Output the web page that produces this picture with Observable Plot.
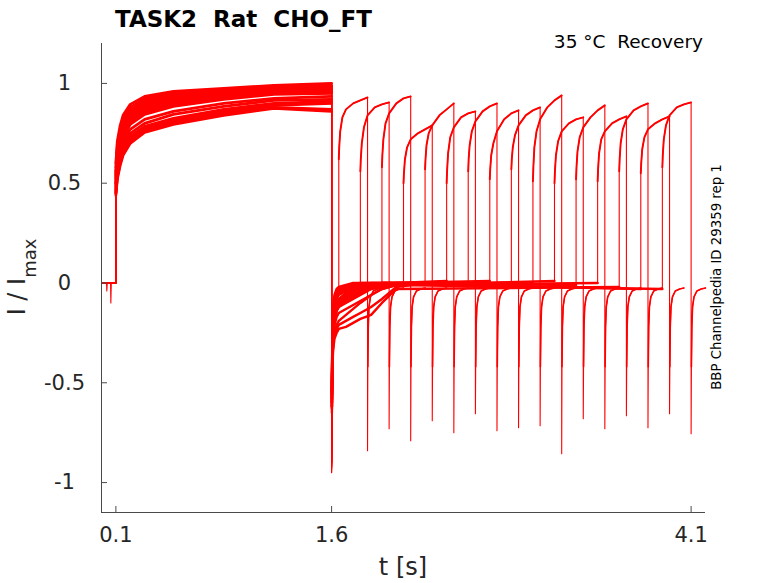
<!DOCTYPE html>
<html>
<head>
<meta charset="utf-8">
<script src="https://cdn.jsdelivr.net/npm/d3@7"></script>
<script src="https://cdn.jsdelivr.net/npm/@observablehq/plot@0.6"></script>
<style>
  body { margin: 0; background: #fff; }
  svg { display: block; }
</style>
</head>
<body>
<div id="chart"></div>
<script>
// ---------- data ----------
const titleText = "TASK2  Rat  CHO_FT";
const conditionText = "35 °C  Recovery";
const sideText = "BBP Channelpedia ID 29359 rep 1";
const xTicks = [0.1, 1.6, 4.1];
const yTicks = [1, 0.5, 0, -0.5, -1];
const xDomain = [0, 4.2];
const yDomain = [-1.15, 1.2];

// pre-pulse baseline (one sweep shows two small dips)
const preTimes = [0, 0.035, 0.037, 0.04, 0.063, 0.065, 0.068, 0.1];
const preDipValues = [0, 0, -0.04, 0, 0, -0.1, 0, 0];
const dipSweep = 3;

// first (conditioning) pulse, 0.1 s – 1.6 s
const p1Times = [0.1, 0.11, 0.13, 0.15, 0.2, 0.3, 0.5, 0.85, 1.2, 1.6];
const p1Values = [
  [0.60, 0.71, 0.79, 0.84, 0.895, 0.935, 0.96, 0.975, 0.99, 1.00],
  [0.50, 0.62, 0.70, 0.75, 0.815, 0.865, 0.90, 0.935, 0.955, 0.96],
  [0.58, 0.69, 0.77, 0.82, 0.88, 0.925, 0.955, 0.97, 0.985, 0.99],
  [0.47, 0.56, 0.64, 0.69, 0.75, 0.80, 0.845, 0.885, 0.915, 0.92],
  [0.56, 0.67, 0.75, 0.80, 0.865, 0.915, 0.945, 0.965, 0.98, 0.985],
  [0.55, 0.66, 0.74, 0.79, 0.855, 0.905, 0.935, 0.96, 0.975, 0.98],
  [0.45, 0.54, 0.61, 0.66, 0.725, 0.775, 0.815, 0.86, 0.89, 0.90],
  [0.54, 0.65, 0.73, 0.78, 0.845, 0.895, 0.93, 0.955, 0.97, 0.975],
  [0.53, 0.64, 0.72, 0.77, 0.835, 0.885, 0.92, 0.945, 0.965, 0.97],
  [0.48, 0.58, 0.66, 0.71, 0.77, 0.82, 0.86, 0.90, 0.925, 0.935],
  [0.52, 0.63, 0.71, 0.76, 0.825, 0.875, 0.91, 0.94, 0.96, 0.965],
  [0.45, 0.53, 0.60, 0.65, 0.71, 0.765, 0.805, 0.85, 0.88, 0.87],
  [0.50, 0.61, 0.69, 0.74, 0.805, 0.855, 0.895, 0.93, 0.95, 0.955],
  [0.46, 0.55, 0.62, 0.67, 0.735, 0.785, 0.825, 0.87, 0.90, 0.91],
  [0.49, 0.60, 0.68, 0.73, 0.795, 0.845, 0.885, 0.92, 0.945, 0.95],
  [0.44, 0.52, 0.59, 0.64, 0.70, 0.755, 0.795, 0.84, 0.875, 0.86]
];

// tail current after the first pulse (each row stops at its sweep's second pulse)
const tail1Times = [1.6, 1.602, 1.605, 1.61, 1.62, 1.635, 1.65, 1.7, 1.75, 1.8, 1.875, 1.95, 2.05];
const tail1Values = [
  [-0.90, -0.55, -0.32, -0.18, -0.10, -0.06, -0.05],
  [-0.95, -0.62, -0.40, -0.27, -0.19, -0.14, -0.12, -0.09, -0.07, -0.05],
  [-0.92, -0.60, -0.38, -0.25, -0.18, -0.14, -0.12, -0.10, -0.08, -0.06, -0.03, -0.01],
  [-0.90, -0.58, -0.35, -0.22, -0.15, -0.10, -0.08, -0.05, -0.03, -0.02, -0.01, 0.00, 0.00],
  [-0.93, -0.63, -0.42, -0.31, -0.26, -0.23, -0.21, -0.19, -0.17, -0.15, -0.12, -0.08, -0.02],
  [-0.90, -0.54, -0.30, -0.15, -0.08, -0.04, -0.03, -0.02, -0.01, 0.00, 0.00, 0.00, 0.00],
  [-0.94, -0.62, -0.40, -0.28, -0.21, -0.17, -0.15, -0.13, -0.11, -0.09, -0.06, -0.03, -0.01],
  [-0.90, -0.56, -0.32, -0.18, -0.10, -0.06, -0.05, -0.03, -0.02, -0.02, -0.01, 0.00, 0.00],
  [-0.92, -0.60, -0.37, -0.24, -0.17, -0.13, -0.11, -0.08, -0.06, -0.05, -0.03, -0.02, -0.01],
  [-0.88, -0.50, -0.27, -0.12, -0.06, -0.03, -0.02, -0.01, 0.00, 0.00, 0.00, 0.00, 0.00],
  [-0.93, -0.62, -0.43, -0.32, -0.25, -0.21, -0.19, -0.16, -0.13, -0.10, -0.06, -0.03, -0.01],
  [-0.90, -0.56, -0.33, -0.20, -0.12, -0.08, -0.06, -0.04, -0.03, -0.02, -0.01, -0.01, 0.00],
  [-0.91, -0.58, -0.34, -0.22, -0.15, -0.11, -0.09, -0.06, -0.04, -0.03, -0.02, -0.01, -0.01],
  [-0.95, -0.65, -0.45, -0.34, -0.28, -0.25, -0.23, -0.22, -0.20, -0.18, -0.16, -0.10, -0.03],
  [-0.90, -0.54, -0.30, -0.16, -0.09, -0.05, -0.04, -0.02, -0.01, -0.01, 0.00, 0.00, 0.00],
  [-0.92, -0.60, -0.37, -0.24, -0.16, -0.12, -0.10, -0.07, -0.05, -0.04, -0.02, -0.01, -0.01]
];
// resting level just before the second pulse (sweeps whose pulse comes after 2.05 s)
const lateBaseline = [null, null, null, 0.00, 0.00, 0.01, 0.00, 0.01, 0.00, 0.00, 0.01, -0.01, 0.00, -0.02, -0.03, -0.03];

// second (test) pulse
const p2Start = [1.65, 1.8, 1.95, 2.1, 2.25, 2.4, 2.55, 2.7, 2.85, 3.0, 3.15, 3.3, 3.45, 3.6, 3.75, 3.9];
const p2Duration = 0.2;
const p2Offsets = [0, 0.003, 0.01, 0.025, 0.05, 0.1, 0.15, 0.2];
const p2Values = [
  [0.62, 0.68, 0.76, 0.83, 0.87, 0.90, 0.915, 0.93],
  [0.56, 0.62, 0.70, 0.78, 0.84, 0.88, 0.895, 0.905],
  [0.58, 0.64, 0.72, 0.80, 0.85, 0.90, 0.925, 0.935],
  [0.50, 0.55, 0.62, 0.68, 0.72, 0.75, 0.77, 0.79],
  [0.57, 0.62, 0.69, 0.75, 0.79, 0.84, 0.87, 0.90],
  [0.50, 0.56, 0.65, 0.73, 0.78, 0.83, 0.85, 0.86],
  [0.56, 0.62, 0.69, 0.76, 0.81, 0.86, 0.885, 0.90],
  [0.52, 0.57, 0.64, 0.70, 0.76, 0.82, 0.85, 0.865],
  [0.57, 0.62, 0.68, 0.74, 0.79, 0.84, 0.865, 0.88],
  [0.51, 0.58, 0.68, 0.76, 0.82, 0.88, 0.915, 0.94],
  [0.50, 0.56, 0.64, 0.71, 0.76, 0.80, 0.82, 0.83],
  [0.52, 0.58, 0.66, 0.73, 0.78, 0.83, 0.865, 0.89],
  [0.51, 0.57, 0.65, 0.72, 0.76, 0.80, 0.82, 0.835],
  [0.56, 0.62, 0.70, 0.77, 0.82, 0.865, 0.885, 0.90],
  [0.55, 0.60, 0.67, 0.73, 0.77, 0.80, 0.82, 0.835],
  [0.58, 0.64, 0.72, 0.79, 0.84, 0.88, 0.895, 0.905]
];

// tail current after the second pulse
const tail2Min = [-0.84, -0.73, -0.79, -0.69, -0.75, -0.655, -0.74, -0.725, -0.715, -0.855, -0.68, -0.73, -0.665, -0.725, -0.655, -0.755];
const tail2Offsets = [0.002, 0.005, 0.01, 0.02, 0.04, 0.07, 0.1];
const tail2Values = [-0.42, -0.22, -0.12, -0.07, -0.04, -0.03, -0.025];

// ---------- build the sweep table ----------
const points = [];
p2Start.forEach((start, i) => {
  const add = (t, v, seg, thick) => points.push({sweep: i, t, v, seg, thick});
  if (i === dipSweep) preTimes.forEach((t, k) => add(t, preDipValues[k], "base", false));
  else { add(preTimes[0], 0, "base", false); add(preTimes[preTimes.length - 1], 0, "base", false); }
  p1Times.forEach((t, k) => add(t, p1Values[i][k], "p1", true));
  tail1Values[i].forEach((v, k) => add(tail1Times[k], v, "tail1", k > 0));
  if (lateBaseline[i] !== null) add(start, lateBaseline[i], "tail1", true);
  p2Offsets.forEach((o, k) => add(start + o, p2Values[i][k], "p2", true));
  const end = start + p2Duration;
  add(end, tail2Min[i], "tail2", false);
  tail2Offsets.forEach((o, k) => add(end + o, tail2Values[k], "tail2", true));
});

const red = "#ff0000";
const axisColor = "#4a4a4a";
const segWidth = {p1: 2.8, tail1: 2.4, p2: 1.9, tail2: 1.6};
const thickLine = seg => Plot.line(points.filter(d => d.thick && d.seg === seg),
  {x: "t", y: "v", z: "sweep", stroke: red, strokeWidth: segWidth[seg]});

const chart = Plot.plot({
  width: 778,
  height: 583,
  marginLeft: 101,
  marginRight: 73,
  marginTop: 43,
  marginBottom: 71,
  x: {domain: xDomain, label: null},
  y: {domain: yDomain, label: null},
  style: {fontFamily: "DejaVu Sans", fontSize: "21px", color: "#262626", background: "#fff"},
  marks: [
    Plot.line(points, {x: "t", y: "v", z: "sweep", stroke: red, strokeWidth: 1.1}),
    thickLine("p1"), thickLine("tail1"), thickLine("p2"), thickLine("tail2"),
    Plot.ruleX([xDomain[0]], {stroke: axisColor}),
    Plot.ruleY([yDomain[0]], {stroke: axisColor}),
    Plot.axisX(xTicks, {tickSize: -6, tickPadding: 21, tickFormat: d => String(d), stroke: axisColor, fill: "#262626", fontSize: 21}),
    Plot.axisY(yTicks, {tickSize: -6, tickPadding: 43, textAnchor: "middle", tickFormat: d => String(d), stroke: axisColor, fill: "#262626", fontSize: 21})
  ]
});

const svg = d3.select(chart);
svg.append("text")
  .attr("x", 115).attr("y", 27).attr("text-anchor", "start")
  .attr("font-family", "DejaVu Sans").attr("font-weight", "bold").attr("font-size", 23)
  .attr("fill", "#000").style("white-space", "pre")
  .text(titleText);
svg.append("text")
  .attr("x", 703).attr("y", 48).attr("text-anchor", "end")
  .attr("font-family", "DejaVu Sans").attr("font-size", 18.5)
  .attr("fill", "#000").style("white-space", "pre")
  .text(conditionText);
svg.append("text")
  .attr("transform", "translate(721,277) rotate(-90)").attr("text-anchor", "middle")
  .attr("font-family", "DejaVu Sans").attr("font-size", 13.3)
  .attr("fill", "#000")
  .text(sideText);
svg.append("text")
  .attr("x", 403).attr("y", 575).attr("text-anchor", "middle")
  .attr("font-family", "DejaVu Sans").attr("font-size", 24)
  .attr("fill", "#262626")
  .text("t [s]");
const yl = svg.append("text")
  .attr("transform", "translate(25,277) rotate(-90)").attr("text-anchor", "middle")
  .attr("font-family", "DejaVu Sans").attr("font-size", 24)
  .attr("fill", "#262626").style("white-space", "pre");
yl.append("tspan").text("I / I");
yl.append("tspan").attr("font-size", 18).attr("dy", 11).text("max");

document.getElementById("chart").appendChild(chart);
</script>
</body>
</html>
